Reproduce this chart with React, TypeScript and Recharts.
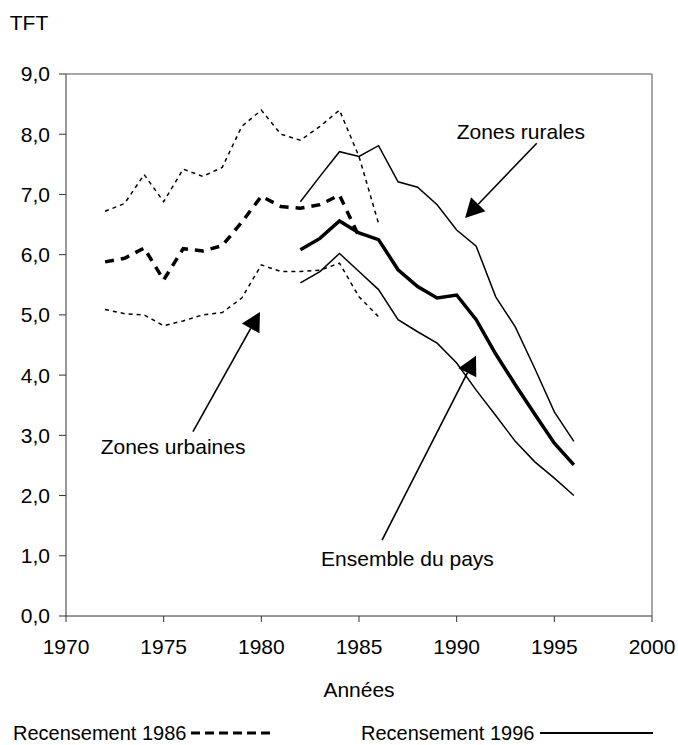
import { LineChart, Line, XAxis, YAxis, ReferenceLine, ReferenceDot } from 'recharts'

// TFT (indice synthétique de fécondité) selon deux recensements
const YEARS_1986 = [1972, 1973, 1974, 1975, 1976, 1977, 1978, 1979, 1980, 1981, 1982, 1983, 1984, 1985, 1986]
const RURAL_1986 = [6.72, 6.85, 7.33, 6.88, 7.42, 7.3, 7.45, 8.13, 8.4, 8.0, 7.9, 8.13, 8.4, 7.63, 6.52]
const TOTAL_1986 = [5.88, 5.94, 6.11, 5.58, 6.1, 6.06, 6.15, 6.54, 6.97, 6.8, 6.77, 6.83, 6.99, 6.3, null]
const URBAN_1986 = [5.09, 5.02, 5.0, 4.82, 4.9, 5.0, 5.04, 5.28, 5.83, 5.72, 5.72, 5.74, 5.86, 5.3, 4.97]

const YEARS_1996 = [1982, 1983, 1984, 1985, 1986, 1987, 1988, 1989, 1990, 1991, 1992, 1993, 1994, 1995, 1996]
const RURAL_1996 = [6.88, 7.3, 7.71, 7.63, 7.81, 7.21, 7.12, 6.83, 6.41, 6.14, 5.3, 4.8, 4.11, 3.39, 2.9]
const TOTAL_1996 = [6.08, 6.27, 6.56, 6.36, 6.25, 5.75, 5.47, 5.28, 5.33, 4.92, 4.35, 3.84, 3.35, 2.87, 2.51]
const URBAN_1996 = [5.53, 5.72, 6.02, 5.72, 5.42, 4.92, 4.72, 4.53, 4.2, 3.75, 3.33, 2.9, 2.56, 2.29, 2.0]

const X_TICKS = [1970, 1975, 1980, 1985, 1990, 1995, 2000]
const Y_TICKS = [0, 1, 2, 3, 4, 5, 6, 7, 8, 9]

// annotation texts + arrows (data coordinates)
const NOTES = [
  { text: 'Zones rurales', x: 1990.0, y: 8.04, anchor: 'start' },
  { text: 'Zones urbaines', x: 1975.48, y: 2.81, anchor: 'middle' },
  { text: 'Ensemble du pays', x: 1987.48, y: 0.96, anchor: 'middle' },
]
const ARROWS = [
  { from: { x: 1994.1, y: 7.85 }, to: { x: 1990.43, y: 6.61 } },
  { from: { x: 1976.5, y: 3.06 }, to: { x: 1979.93, y: 5.05 } },
  { from: { x: 1986.18, y: 1.26 }, to: { x: 1990.99, y: 4.32 } },
]

const FONT = '"Liberation Sans", Arial, sans-serif'
const FS = 21

function buildRows() {
  const rows: Record<number, Record<string, number | null>> = {}
  const put = (years: number[], vals: (number | null)[], key: string) => {
    years.forEach((yr, i) => {
      rows[yr] = rows[yr] ?? { year: yr }
      rows[yr][key] = vals[i]
    })
  }
  put(YEARS_1986, RURAL_1986, 'rural86')
  put(YEARS_1986, TOTAL_1986, 'total86')
  put(YEARS_1986, URBAN_1986, 'urban86')
  put(YEARS_1996, RURAL_1996, 'rural96')
  put(YEARS_1996, TOTAL_1996, 'total96')
  put(YEARS_1996, URBAN_1996, 'urban96')
  return Object.values(rows).sort((a, b) => Number(a.year) - Number(b.year))
}

function Arrow(props: any) {
  const { x1, y1, x2, y2 } = props
  const dx = x2 - x1
  const dy = y2 - y1
  const len = Math.hypot(dx, dy) || 1
  const ux = dx / len
  const uy = dy / len
  const head = 19
  const half = 10
  const bx = x2 - ux * head
  const by = y2 - uy * head
  const pts = `${x2},${y2} ${bx - uy * half},${by + ux * half} ${bx + uy * half},${by - ux * half}`
  return (
    <g>
      <line x1={x1} y1={y1} x2={bx} y2={by} stroke="#000" strokeWidth={1.6} />
      <polygon points={pts} fill="#000" />
    </g>
  )
}

const fmt = (v: number) => v.toFixed(1).replace('.', ',')

export default function App() {
  const data = buildRows()
  const tick = { fill: '#000', fontSize: FS, fontFamily: FONT }

  return (
    <div style={{ position: 'absolute', left: 0, top: 0, width: 678, height: 745, background: '#fff', fontFamily: FONT }}>
      <LineChart width={678} height={745} data={data} margin={{ top: 74, right: 26, bottom: 99, left: 0 }}>
        <XAxis
          dataKey="year"
          type="number"
          domain={[1970, 2000]}
          ticks={X_TICKS}
          tick={tick}
          tickSize={6}
          tickMargin={17}
          stroke="#333"
          height={30}
          label={{ value: 'Années', position: 'bottom', offset: 36, fill: '#000', fontSize: FS, fontFamily: FONT }}
        />
        <YAxis
          type="number"
          domain={[0, 9]}
          ticks={Y_TICKS}
          tickFormatter={fmt}
          tick={tick}
          tickSize={7}
          tickMargin={9}
          stroke="#333"
          width={66}
          label={{ value: 'TFT', position: 'top', offset: 44, dx: -4, fill: '#000', fontSize: FS, fontFamily: FONT }}
        />
        <ReferenceLine y={9} stroke="#888" strokeWidth={1.5} />
        <ReferenceLine x={2000} stroke="#888" strokeWidth={1.5} />

        <Line dataKey="rural86" stroke="#000" strokeWidth={1.5} strokeDasharray="4 4" dot={false} isAnimationActive={false} />
        <Line dataKey="urban86" stroke="#000" strokeWidth={1.5} strokeDasharray="4 4" dot={false} isAnimationActive={false} />
        <Line dataKey="total86" stroke="#000" strokeWidth={3.5} strokeDasharray="9 7" dot={false} isAnimationActive={false} />
        <Line dataKey="rural96" stroke="#000" strokeWidth={1.5} dot={false} isAnimationActive={false} />
        <Line dataKey="urban96" stroke="#000" strokeWidth={1.5} dot={false} isAnimationActive={false} />
        <Line dataKey="total96" stroke="#000" strokeWidth={3.5} dot={false} isAnimationActive={false} />

        {ARROWS.map((a, i) => (
          <ReferenceLine key={'a' + i} segment={[a.from, a.to]} shape={Arrow} />
        ))}
        {NOTES.map((n) => (
          <ReferenceDot
            key={n.text}
            x={n.x}
            y={n.y}
            r={0}
            shape={(p: any) => (
              <text x={p.cx} y={p.cy} dy="0.35em" textAnchor={n.anchor} fontSize={FS} fontFamily={FONT} fill="#000">
                {n.text}
              </text>
            )}
          />
        ))}
      </LineChart>

      <div style={{ position: 'absolute', left: 13, top: 721, fontSize: 20, lineHeight: '24px', display: 'flex', alignItems: 'center', whiteSpace: 'nowrap' }}>
        <span>Recensement 1986</span>
        <svg width={82} height={10} style={{ marginLeft: 5 }}>
          <line x1={0} y1={5} x2={80} y2={5} stroke="#000" strokeWidth={3} strokeDasharray="9 5" />
        </svg>
      </div>
      <div style={{ position: 'absolute', left: 361, top: 721, fontSize: 20, lineHeight: '24px', display: 'flex', alignItems: 'center', whiteSpace: 'nowrap' }}>
        <span>Recensement 1996</span>
        <svg width={115} height={10} style={{ marginLeft: 6 }}>
          <line x1={0} y1={5} x2={113} y2={5} stroke="#000" strokeWidth={2} />
        </svg>
      </div>
    </div>
  )
}
